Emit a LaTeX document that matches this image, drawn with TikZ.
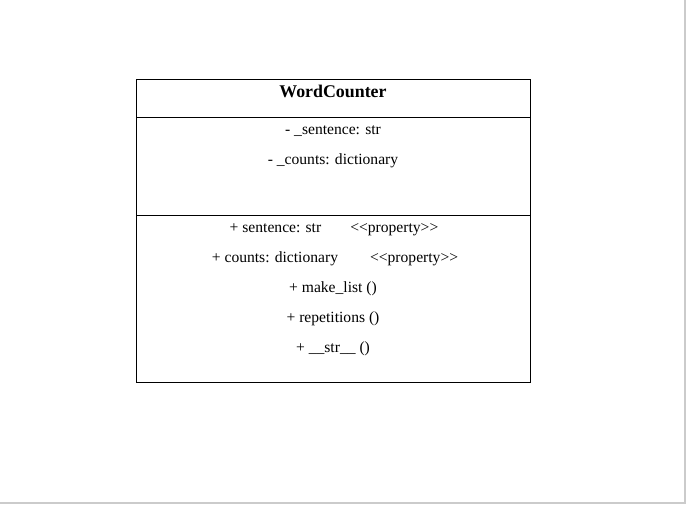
\documentclass[tikz,border=0pt]{standalone}
\usepackage{fontspec}
\setmainfont{Liberation Serif}
\usepackage{xcolor}
\usetikzlibrary{positioning}
\definecolor{edge}{HTML}{000000}
\definecolor{frame}{HTML}{CBCBCB}
\tikzset{
  part/.style={draw=edge,line width=0.8pt,minimum width=394*0.75pt,inner sep=0pt,anchor=north west},
  member/.style={inner sep=0pt,anchor=base,font=\fontsize{11.7pt}{14pt}\selectfont},
  classname/.style={inner sep=0pt,anchor=base,font=\fontsize{13.4pt}{16pt}\selectfont\bfseries}
}

\begin{document}
\begin{tikzpicture}[x=0.75pt,y=-0.75pt]
\useasboundingbox[fill=white] (0,0) rectangle (688,505);
\draw[frame,line width=1pt] (685,0) -- (685,503) -- (0,503);
\node[part,minimum height=38*0.75pt] (head) at (136,79) {};
\node[part,minimum height=98*0.75pt] (attrs) at (136,117) {};
\node[part,minimum height=167*0.75pt] (ops) at (136,215) {};
\node[classname] (name) at (333,98) {WordCounter};
\node[member] (sent) at (333,135) {- \_sentence: str};
\node[member] (cnt) at (333,165) {- \_counts: dictionary};
\node[member] (psent) at (334,232.5) {+ sentence: str\hspace{29\dimexpr0.75pt\relax}{<}{<}property{>}{>}};
\node[member] (pcnt) at (335,262.5) {+ counts: dictionary\hspace{32\dimexpr0.75pt\relax}{<}{<}property{>}{>}};
\node[member] (mlist) at (333,292.5) {+ make\_list ()};
\node[member] (reps) at (333,322.5) {+ repetitions ()};
\node[member] (strm) at (333,353) {+ \_\_str\_\_ ()};
\end{tikzpicture}
\end{document}
